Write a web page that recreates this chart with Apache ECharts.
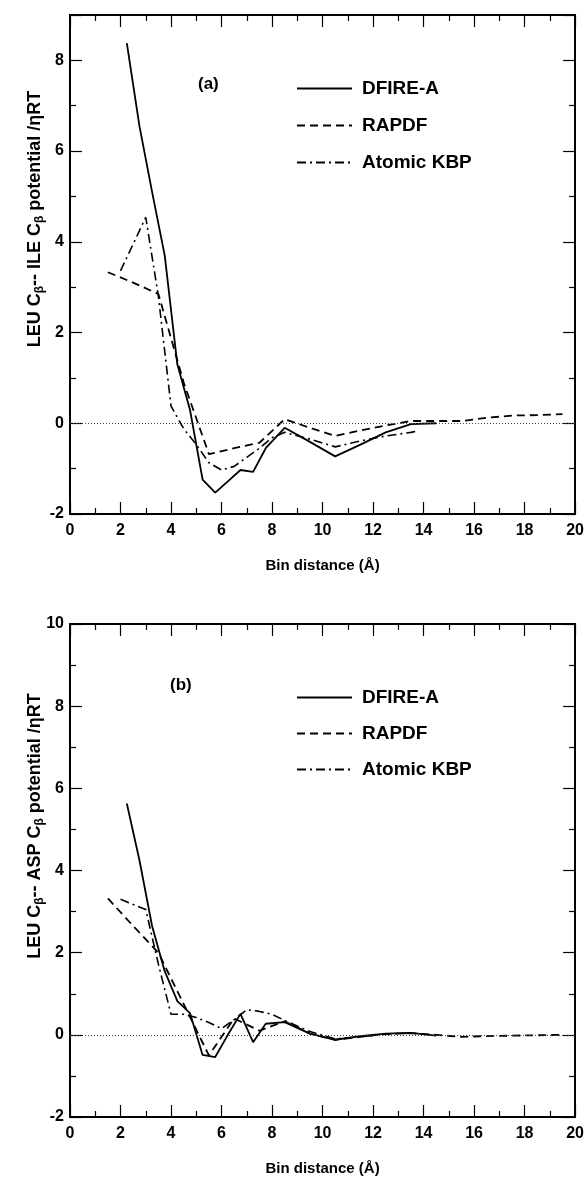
<!DOCTYPE html>
<html>
<head>
<meta charset="utf-8">
<script src="https://cdn.jsdelivr.net/npm/echarts@6/dist/echarts.min.js"></script>
<style>html,body{margin:0;padding:0;background:#fff}#c{width:587px;height:1184px}</style>
</head>
<body>
<div id="c"></div>
<script>
// ---- data ----
const seriesNames = ['DFIRE-A', 'RAPDF', 'Atomic KBP'];
const xTicks = [0, 2, 4, 6, 8, 10, 12, 14, 16, 18, 20];
const yTicksA = [-2, 0, 2, 4, 6, 8];
const yTicksB = [-2, 0, 2, 4, 6, 8, 10];

const dfireX = [2.25, 2.75, 3.25, 3.75, 4.25, 4.75, 5.25, 5.75, 6.25, 6.75, 7.25, 7.75, 8.5, 9.5, 10.5, 11.5, 12.5, 13.5, 14.5];
const dfireA = [8.38, 6.55, 5.1, 3.7, 1.3, 0.3, -1.24, -1.53, -1.28, -1.03, -1.07, -0.55, -0.1, -0.41, -0.73, -0.47, -0.2, -0.02, 0.0];
const dfireB = [5.63, 4.25, 2.65, 1.55, 0.82, 0.53, -0.49, -0.54, 0.0, 0.51, -0.18, 0.27, 0.31, 0.03, -0.12, -0.03, 0.03, 0.05, -0.02];

const rapdfX = [1.5, 2.5, 3.5, 4.5, 5.5, 6.5, 7.5, 8.5, 9.5, 10.5, 11.5, 12.5, 13.5, 14.5, 15.5, 16.5, 17.5, 18.5, 19.5];
const rapdfA = [3.33, 3.1, 2.85, 0.9, -0.68, -0.55, -0.43, 0.09, -0.1, -0.28, -0.16, -0.05, 0.05, 0.05, 0.05, 0.12, 0.17, 0.18, 0.2];
const rapdfB = [3.32, 2.65, 2.0, 0.75, -0.5, 0.4, 0.1, 0.33, 0.03, -0.12, -0.05, 0.02, 0.04, 0.0, -0.05, -0.03, -0.02, -0.01, 0.0];

const kbpXA = [2.0, 3.0, 3.5, 4.0, 4.5, 5.0, 5.5, 6.0, 6.5, 7.0, 7.5, 8.0, 8.5, 9.5, 10.5, 11.5, 12.5, 13.5, 13.75];
const kbpA = [3.36, 4.54, 2.8, 0.38, -0.12, -0.47, -0.87, -1.03, -0.95, -0.75, -0.55, -0.32, -0.2, -0.35, -0.52, -0.39, -0.28, -0.2, -0.17];
const kbpXB = [2.0, 3.0, 3.5, 4.0, 4.5, 5.0, 5.5, 6.0, 6.5, 7.0, 7.5, 8.0, 8.5, 9.5, 10.5, 11.5, 12.5, 13.5, 14.0];
const kbpB = [3.3, 3.05, 1.72, 0.5, 0.5, 0.42, 0.3, 0.15, 0.37, 0.61, 0.57, 0.5, 0.35, 0.08, -0.1, -0.05, 0.02, 0.04, 0.02];

const pair = (xs, ys) => xs.map((x, i) => [x, ys[i]]);

const FONT = 'Liberation Sans, Arial, sans-serif';
const lineStyles = [
  { color: '#000', width: 1.8, type: 'solid' },
  { color: '#000', width: 1.8, type: [8, 5] },
  { color: '#000', width: 1.6, type: [9, 4, 2, 4] }
];

function xAxes(gi) {
  const common = {
    type: 'value', gridIndex: gi, min: 0, max: 20, interval: 2,
    axisLine: { show: true, onZero: false, lineStyle: { color: '#000', width: 2 } },
    axisTick: { show: true, inside: true, length: 12, lineStyle: { color: '#000', width: 1.2 } },
    minorTick: { show: true, splitNumber: 2, length: 6, lineStyle: { color: '#000', width: 1.2 } },
    splitLine: { show: false }
  };
  return [
    Object.assign({}, common, {
      position: 'bottom',
      axisLabel: { show: true, margin: 9, color: '#000', fontFamily: FONT, fontWeight: 'bold', fontSize: 16,
        formatter: v => xTicks.includes(v) ? String(v) : '' },
      name: 'Bin distance (\u00C5)', nameLocation: 'middle', nameGap: 44,
      nameTextStyle: { color: '#000', fontFamily: FONT, fontWeight: 'bold', fontSize: 15 }
    }),
    Object.assign({}, common, { position: 'top', axisLabel: { show: false } })
  ];
}

function yAxes(gi, min, max, ticks) {
  const common = {
    type: 'value', gridIndex: gi, min: min, max: max, interval: 2,
    axisLine: { show: true, onZero: false, lineStyle: { color: '#000', width: 2 } },
    axisTick: { show: true, inside: true, length: 12, lineStyle: { color: '#000', width: 1.2 } },
    minorTick: { show: true, splitNumber: 2, length: 6, lineStyle: { color: '#000', width: 1.2 } },
    splitLine: { show: false }
  };
  return [
    Object.assign({}, common, {
      position: 'left',
      axisLabel: { show: true, margin: 6, color: '#000', fontFamily: FONT, fontWeight: 'bold', fontSize: 16,
        showMaxLabel: ticks.includes(max),
        formatter: v => ticks.includes(v) ? String(v) : '' }
    }),
    Object.assign({}, common, { position: 'right', axisLabel: { show: false } })
  ];
}

function mkSeries(gi, data) {
  return data.map((d, i) => {
    const s = {
      name: seriesNames[i], type: 'line', xAxisIndex: gi * 2, yAxisIndex: gi * 2,
      data: d, symbol: 'none', smooth: false, lineStyle: lineStyles[i], itemStyle: { color: '#000' },
      animation: false, z: 3
    };
    if (i === 0) {
      s.markLine = {
        silent: true, symbol: 'none', label: { show: false }, animation: false,
        lineStyle: { color: '#444', width: 1, type: [1, 2] },
        data: [{ yAxis: 0 }]
      };
    }
    return s;
  });
}

function legend(top, gap) {
  return {
    data: seriesNames, orient: 'vertical', left: 296, top: top, padding: 0,
    itemWidth: 55, itemHeight: 14, itemGap: gap, selectedMode: false,
    itemStyle: { opacity: 0 },
    textStyle: { color: '#000', fontFamily: FONT, fontWeight: 'bold', fontSize: 19, padding: [0, 0, 0, 5] }
  };
}

const yRich = {
  a: { fontFamily: FONT, fontWeight: 'bold', fontSize: 18, fill: '#000', color: '#000' },
  s: { fontFamily: FONT, fontWeight: 'bold', fontSize: 12, fill: '#000', color: '#000', padding: [10, 0, 0, 0] }
};

const chart = echarts.init(document.getElementById('c'), null, { renderer: 'canvas' });
chart.setOption({
  animation: false,
  backgroundColor: '#fff',
  grid: [
    { left: 70, right: 10, top: 15, height: 499 },
    { left: 70, right: 10, top: 624, height: 493 }
  ],
  xAxis: [...xAxes(0), ...xAxes(1)],
  yAxis: [...yAxes(0, -2, 9, yTicksA), ...yAxes(1, -2, 10, yTicksB)],
  legend: [legend(79, 18), legend(688, 17)],
  series: [
    ...mkSeries(0, [pair(dfireX, dfireA), pair(rapdfX, rapdfA), pair(kbpXA, kbpA)]),
    ...mkSeries(1, [pair(dfireX, dfireB), pair(rapdfX, rapdfB), pair(kbpXB, kbpB)])
  ],
  graphic: [
    { type: 'text', left: 198, top: 76, style: { text: '(a)', font: 'bold 17px ' + FONT, fill: '#000' } },
    { type: 'text', left: 170, top: 677, style: { text: '(b)', font: 'bold 17px ' + FONT, fill: '#000' } },
    { type: 'text', x: 35, y: 219, rotation: Math.PI / 2,
      style: { text: '{a|LEU C}{s|\u03B2}{a|-- ILE C}{s|\u03B2}{a| potential /\u03B7RT}', rich: yRich,
        align: 'center', verticalAlign: 'middle' } },
    { type: 'text', x: 35, y: 826, rotation: Math.PI / 2,
      style: { text: '{a|LEU C}{s|\u03B2}{a|-- ASP C}{s|\u03B2}{a| potential /\u03B7RT}', rich: yRich,
        align: 'center', verticalAlign: 'middle' } }
  ]
});
</script>
</body>
</html>
